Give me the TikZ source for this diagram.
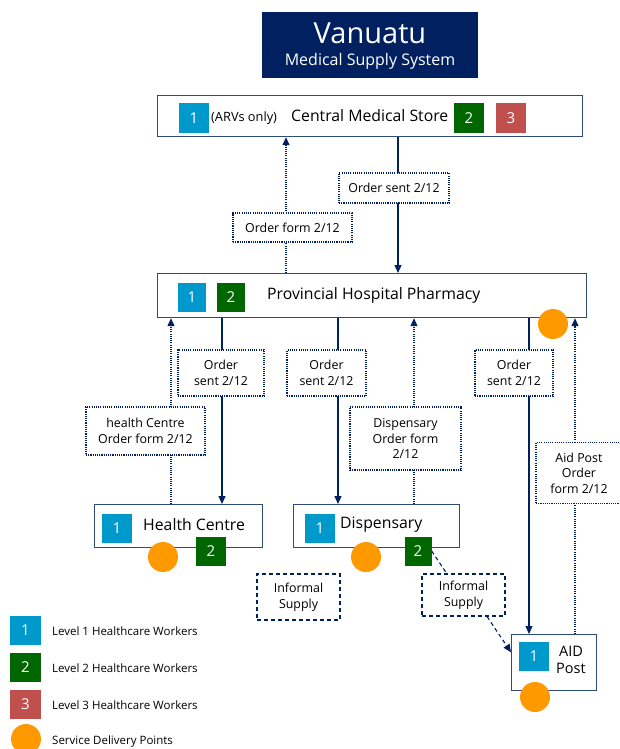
\documentclass[tikz,border=0pt]{standalone}
\usepackage{fontspec}
\setmainfont{Open Sans}
\usetikzlibrary{arrows.meta,shapes.geometric,calc}
\definecolor{navy}{HTML}{002060}
\definecolor{bordercol}{HTML}{2F4B7C}
\definecolor{lvlone}{HTML}{0099CC}
\definecolor{lvltwo}{HTML}{006600}
\definecolor{lvlthree}{HTML}{C0504D}
\definecolor{sdpcol}{HTML}{FF9900}
\begin{document}
\begin{tikzpicture}[x=1pt,y=-1pt,
  mainbox/.style={draw=bordercol,line width=1.2pt,fill=white,rectangle,inner sep=0pt,anchor=north west},
  lvlsq/.style={rectangle,minimum width=30pt,minimum height=29pt,inner sep=0pt,text=white,font=\fontsize{15}{17}\selectfont},
  sdp/.style={circle,fill=sdpcol,minimum size=30pt,inner sep=0pt},
  lbl/.style={draw=navy,line width=1.1pt,dash pattern=on 1.1pt off 1.1pt,fill=white,rectangle,inner sep=1pt,align=center,font=\fontsize{12.4}{15.5}\selectfont},
  infbox/.style={draw=navy,line width=1.1pt,dash pattern=on 4pt off 3pt,fill=white,rectangle,inner sep=1pt,align=center,font=\fontsize{12.4}{15.5}\selectfont},
  solidarrow/.style={draw=navy,line width=1.2pt,-{Triangle[length=8pt,width=7pt]}},
  dotarrow/.style={draw=navy,line width=1.1pt,dash pattern=on 1.1pt off 1.1pt,-{Triangle[length=8pt,width=7pt]}},
  dashline/.style={draw=navy,line width=1.1pt,dash pattern=on 4pt off 3pt},
  bigtext/.style={font=\fontsize{15.8}{18}\selectfont,anchor=west,inner sep=0pt},
  legtext/.style={font=\fontsize{11.5}{13}\selectfont,anchor=west,inner sep=0pt}
]
\useasboundingbox (0,0) rectangle (620,749);

% title
\node[fill=navy,minimum width=216pt,minimum height=66pt,inner sep=0pt] (title) at (370,45) {};
\node[text=white,anchor=base,inner sep=0pt,font=\fontsize{29}{31}\selectfont] (titlea) at (370,44) {Vanuatu};
\node[text=white,anchor=base,inner sep=0pt,font=\fontsize{16}{19}\selectfont] (titleb) at (370,66) {Medical Supply System};

% main boxes
\node[mainbox,minimum width=425pt,minimum height=41pt] (cms) at (157,95) {};
\node[mainbox,minimum width=429pt,minimum height=44pt] (php) at (157,273) {};
\node[mainbox,minimum width=168pt,minimum height=43pt] (hc) at (94,504) {};
\node[mainbox,minimum width=166pt,minimum height=43pt] (disp) at (293,504) {};
\node[mainbox,minimum width=85pt,minimum height=56pt] (aid) at (511,634) {};

% CMS contents
\node[lvlsq,fill=lvlone] (cms1) at (194,118) {1};
\node[font=\fontsize{12.8}{14}\selectfont,anchor=west,inner sep=0pt] (arv) at (211,118) {(ARVs only)};
\node[bigtext] (cmst) at (291,116) {Central Medical Store};
\node[lvlsq,fill=lvltwo] (cms2) at (469,118) {2};
\node[lvlsq,fill=lvlthree] (cms3) at (511,118) {3};

% PHP contents
\node[lvlsq,fill=lvlone,minimum width=28pt] (php1) at (192,297) {1};
\node[lvlsq,fill=lvltwo,minimum width=28pt] (php2) at (231,297) {2};
\node[bigtext] (phpt) at (267,295) {Provincial Hospital Pharmacy};

% HC contents
\node[lvlsq,fill=lvlone] (hc1) at (117,528) {1};
\node[bigtext] (hct) at (143,525) {Health Centre};

% Dispensary contents
\node[lvlsq,fill=lvlone] (disp1) at (320,528) {1};
\node[bigtext] (dispt) at (340,525) {Dispensary};

% AID contents
\node[lvlsq,fill=lvlone] (aid1) at (534,656) {1};
\node[font=\fontsize{14.5}{16.5}\selectfont,align=center,inner sep=0pt] (aidt) at (571,660) {AID\\Post};

% helper x positions
\coordinate (xa) at (398,0);
\coordinate (xb) at (286,0);
\coordinate (xc) at (222,0);
\coordinate (xd) at (171,0);
\coordinate (xe) at (338,0);
\coordinate (xf) at (414,0);
\coordinate (xg) at (529,0);
\coordinate (xh) at (575,0);

% connectors
\draw[solidarrow] (xa |- cms.south) -- (xa |- php.north);
\draw[dotarrow] (xb |- php.north) -- (xb |- cms.south);
\draw[solidarrow] (xc |- php.south) -- (xc |- hc.north);
\draw[dotarrow] (xd |- hc.north) -- (xd |- php.south);
\draw[solidarrow] (xe |- php.south) -- (xe |- disp.north);
\draw[dotarrow] (xf |- disp.north) -- (xf |- php.south);
\draw[solidarrow] (xg |- php.south) -- (xg |- aid.north);
\draw[dotarrow] (xh |- aid.north) -- (xh |- php.south);

% labels on connectors
\node[lbl,minimum width=110pt,minimum height=30pt] (l1) at (394,188) {Order sent 2/12};
\node[lbl,minimum width=119pt,minimum height=29pt] (l2) at (292.5,227.5) {Order form 2/12};
\node[lbl,minimum width=86pt,minimum height=46pt] (l3) at (221,373) {Order\\sent 2/12};
\node[lbl,minimum width=119pt,minimum height=48pt] (l4) at (145.5,431) {health Centre\\Order form 2/12};
\node[lbl,minimum width=79pt,minimum height=46pt] (l5) at (326.5,373) {Order\\sent 2/12};
\node[lbl,minimum width=111pt,minimum height=63pt] (l6) at (405.5,438.5) {Dispensary\\Order form\\2/12};
\node[lbl,minimum width=78pt,minimum height=46pt] (l7) at (514,373) {Order\\sent 2/12};
\node[lbl,minimum width=86pt,minimum height=61pt] (l8) at (579,473) {Aid Post\\Order\\form 2/12};

% bottom markers
\node[sdp] (sdpphp) at (553,324) {};
\node[sdp] (sdphc) at (163,557) {};
\node[lvlsq,fill=lvltwo] (hc2) at (211,551) {2};
\node[sdp] (sdpdisp) at (366,557) {};
\node[lvlsq,fill=lvltwo,minimum width=27pt] (disp2) at (418,551) {2};
\node[sdp] (sdpaid) at (535,697) {};

% informal supply
\node[infbox,minimum width=83pt,minimum height=46pt] (isl) at (298.5,597) {Informal\\Supply};
\node[infbox,minimum width=83pt,minimum height=42pt] (isr) at (463.5,595) {Informal\\Supply};
\draw[dashline] (disp2.east) -- ($(isr.north west)!0.3!(isr.north east)$);
\draw[dashline,-{Triangle[length=8pt,width=7pt]}] ($(isr.south west)!0.78!(isr.south east)$) -- ($(aid.north west)!0.32!(aid.south west)$);

% legend
\node[lvlsq,fill=lvlone,minimum width=31pt] (lg1) at (25.5,630.5) {1};
\node[legtext] (lg1t) at (52,631) {Level 1 Healthcare Workers};
\node[lvlsq,fill=lvltwo,minimum width=31pt] (lg2) at (25.5,667.5) {2};
\node[legtext] (lg2t) at (52,668) {Level 2 Healthcare Workers};
\node[lvlsq,fill=lvlthree,minimum width=31pt] (lg3) at (25.5,704.5) {3};
\node[legtext] (lg3t) at (52,705) {Level 3 Healthcare Workers};
\node[sdp] (lg4) at (26,739) {};
\node[legtext] (lg4t) at (52,742) {Service Delivery Points};
\end{tikzpicture}
\end{document}
